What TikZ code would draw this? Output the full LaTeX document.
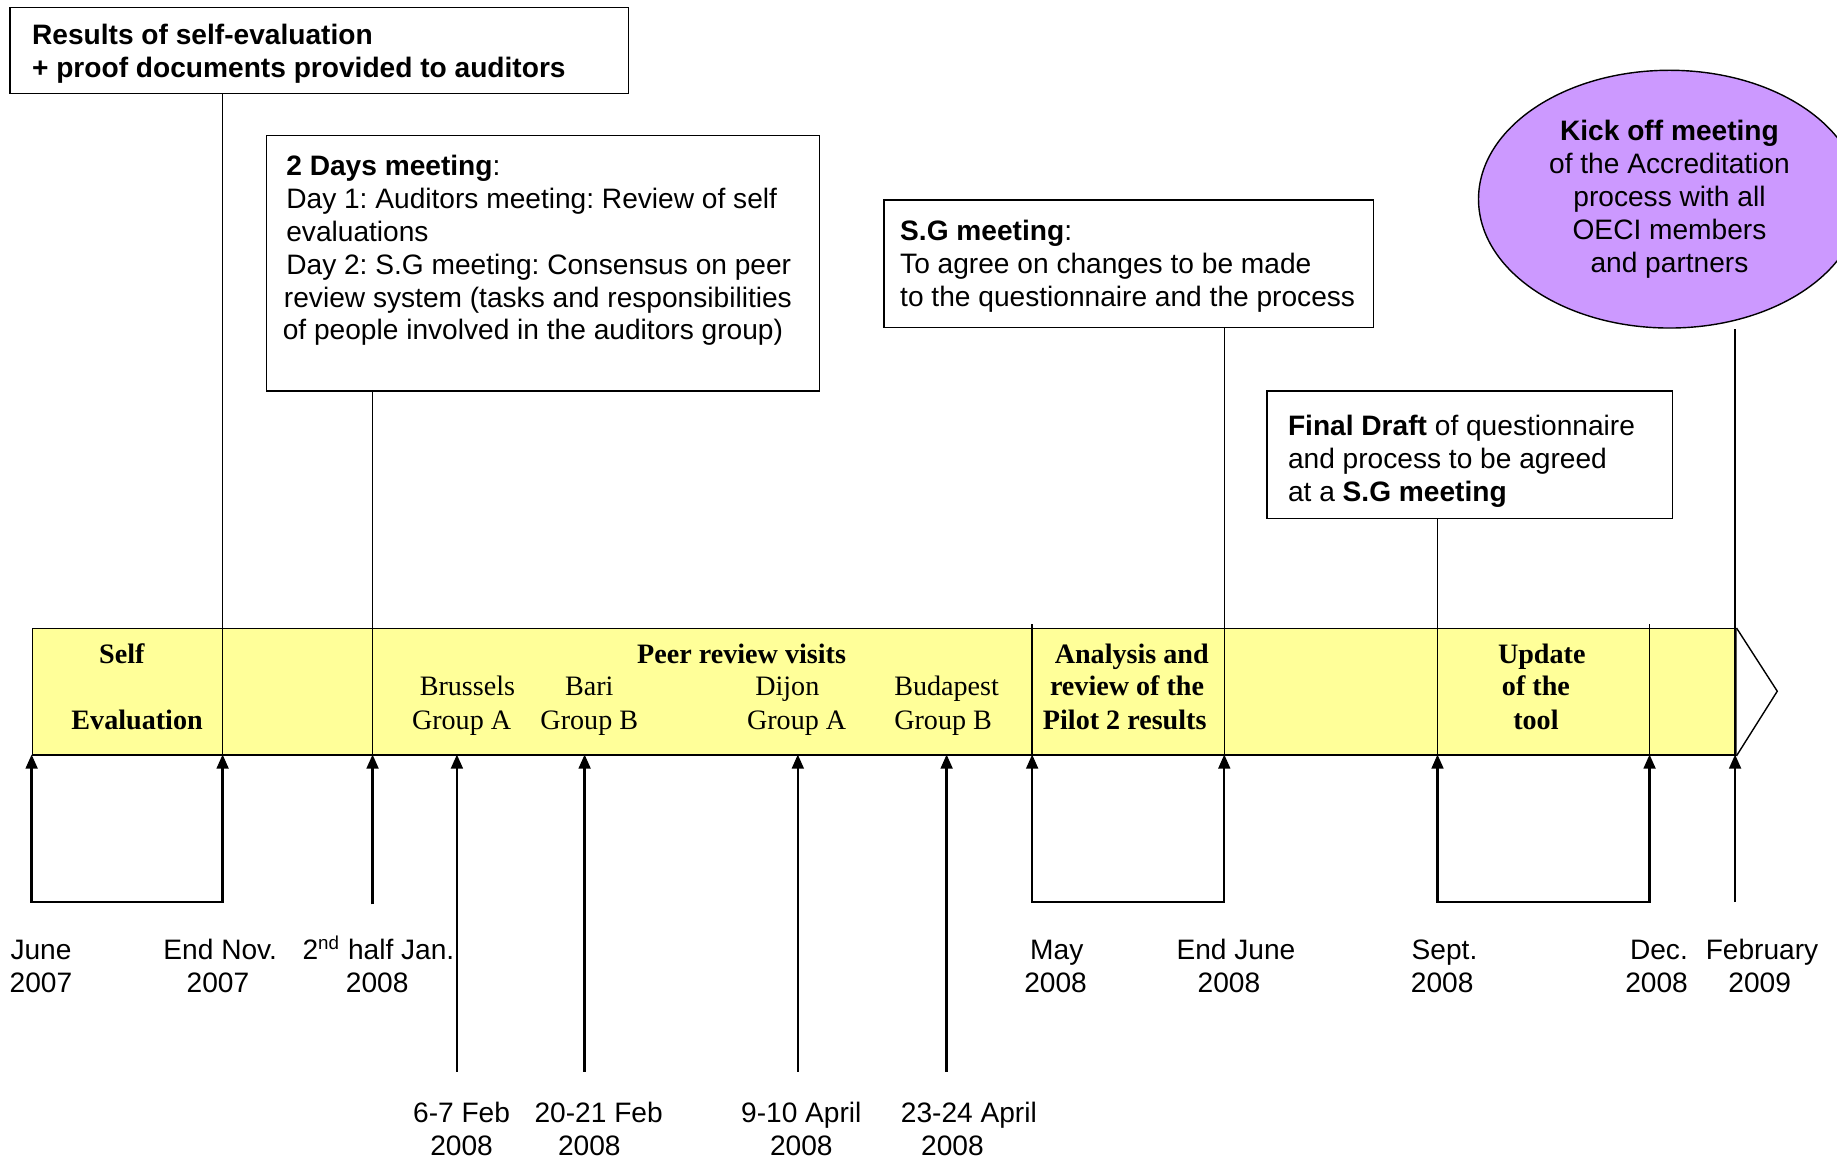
\documentclass[tikz,border=0pt]{standalone}
\usepackage{fontspec}
\setmainfont{Liberation Sans}
\newfontfamily\tmsfont{Liberation Serif}
\usetikzlibrary{shapes.geometric,arrows.meta}
\definecolor{bandyellow}{HTML}{FFFF99}
\definecolor{kickpurple}{HTML}{CC99FF}
\frenchspacing
\begin{document}
\begin{tikzpicture}[x=0.5pt,y=-0.5pt,
  boxframe/.style={draw, line width=0.6pt, rectangle, anchor=north west, inner sep=0pt},
  boxtext/.style={anchor=west, align=left, inner sep=0pt, font=\fontsize{12}{14}\selectfont},
  boxbold/.style={boxtext, font=\fontsize{12}{14}\selectfont\bfseries},
  bandtext/.style={anchor=base, inner sep=0pt, font=\fontsize{12}{14}\selectfont\tmsfont},
  bandbold/.style={anchor=base, inner sep=0pt, font=\fontsize{12}{14}\selectfont\tmsfont\bfseries},
  datelab/.style={anchor=base, inner sep=0pt, font=\fontsize{12}{14}\selectfont},
  conn/.style={line width=0.6pt},
  uparrow/.style={line width=1pt, -{Triangle[width=5pt,length=6pt]}},
  bracket/.style={line width=1pt, line cap=rect},
]
\useasboundingbox (0,0) rectangle (1568,988);

% top boxes
\node[boxframe, minimum width=264pt, minimum height=36.5pt] (box1) at (8,6) {};
\node[boxbold] (box1t) at (27,46) {Results of self-evaluation\\+ proof documents provided to auditors};

\node[boxframe, minimum width=236pt, minimum height=109pt] (box2) at (227,115) {};
\node[boxtext] (box2t) at (244,214) {\textbf{2 Days meeting}:\\Day 1: Auditors meeting: Review of self\\evaluations\\Day 2: S.G meeting: Consensus on peer\\\hspace*{-1pt}review system (tasks and responsibilities\\\hspace*{-1.5pt}of people involved in the auditors group)};

\node[boxframe, minimum width=209pt, minimum height=54.5pt] (box3) at (754,170) {};
\node[boxtext] (box3t) at (768,227) {\textbf{S.G meeting}:\\To agree on changes to be made\\to the questionnaire and the process};

\node[boxframe, minimum width=173pt, minimum height=54.5pt] (box4) at (1081,333) {};
\node[boxtext] (box4t) at (1099,394) {\textbf{Final Draft} of questionnaire\\and process to be agreed\\at a \textbf{S.G meeting}};

\node[draw, line width=0.6pt, ellipse, fill=kickpurple, minimum width=163pt, minimum height=110pt, inner sep=0pt, align=center, font=\fontsize{12}{14}\selectfont] (kick) at (1425,170) {\textbf{Kick off meeting}\\of the Accreditation\\process with all\\OECI members\\and partners};
\coordinate (kk) at (1481,281);

% band
\node[draw, line width=0.6pt, fill=bandyellow, minimum width=727pt, minimum height=54pt, anchor=north west, inner sep=0pt] (band) at (27,536) {};
\coordinate (tip) at (1517,590);
\draw[conn, fill=white] (band.north east) -- (tip) -- (band.south east);

\foreach \n/\x/\y in {1/27/770,2/190/770,3/318/772,4/390/915,5/499/915,6/681/915,7/808/915,8/881/770,9/1045/770,10/1227/770,11/1408/770,12/1481/770}{
  \coordinate (t\n) at (\x,644);
  \coordinate (b\n) at (\x,\y);
}

% lines from boxes / dividers
\draw[conn] (box1.south -| t2) -- (t2);
\draw[conn] (box2.south -| t3) -- (t3);
\draw[conn] (box3.south -| t9) -- (t9);
\draw[conn] (box4.south -| t10) -- (t10);
\draw[conn] (kk) -- (t12);
\draw[conn] ([yshift=1.5pt]band.north -| t8) -- (t8);
\draw[conn] ([yshift=1.5pt]band.north -| t11) -- (t11);

% arrows
\foreach \n in {1,...,12}{\draw[uparrow] (b\n) -- (t\n);}
\draw[bracket] (b1) -- (b2);
\draw[bracket] (b8) -- (b9);
\draw[bracket] (b10) -- (b11);

% band texts
\node[bandbold] (self1) at (104,566) {Self};
\node[bandbold] (self2) at (117,623) {Evaluation};
\node[bandbold] (peer) at (633,566) {Peer review visits};
\node[bandtext] (c1a) at (399,594) {Brussels};
\node[bandtext] (c1b) at (394,623) {Group A};
\node[bandtext] (c2a) at (503,594) {Bari};
\node[bandtext] (c2b) at (503,623) {Group B};
\node[bandtext] (c3a) at (672,594) {Dijon};
\node[bandtext] (c3b) at (680,623) {Group A};
\node[bandtext] (c4a) at (808,594) {Budapest};
\node[bandtext] (c4b) at (805,623) {Group B};
\node[bandbold] (an1) at (966,566) {Analysis and};
\node[bandbold] (an2) at (962,594) {review of the};
\node[bandbold] (an3) at (960,623) {Pilot 2 results};
\node[bandbold] (up1) at (1316,566) {Update};
\node[bandbold] (up2) at (1311,594) {of the};
\node[bandbold] (up3) at (1311,623) {tool};

% date labels
\node[datelab] (d1a) at (35,819) {June};
\node[datelab] (d1b) at (35,847) {2007};
\node[datelab] (d2a) at (188,819) {End Nov.};
\node[datelab] (d2b) at (186,847) {2007};
\node[datelab] (d3a) at (323,819) {2\textsuperscript{nd} half Jan.};
\node[datelab] (d3b) at (322,847) {2008};
\node[datelab] (d4a) at (394,958) {6-7 Feb};
\node[datelab] (d4b) at (394,986) {2008};
\node[datelab] (d5a) at (511,958) {20-21 Feb};
\node[datelab] (d5b) at (503,986) {2008};
\node[datelab] (d6a) at (684,958) {9-10 April};
\node[datelab] (d6b) at (684,986) {2008};
\node[datelab] (d7a) at (827,958) {23-24 April};
\node[datelab] (d7b) at (813,986) {2008};
\node[datelab] (d8a) at (902,819) {May};
\node[datelab] (d8b) at (901,847) {2008};
\node[datelab] (d9a) at (1055,819) {End June};
\node[datelab] (d9b) at (1049,847) {2008};
\node[datelab] (d10a) at (1233,819) {Sept.};
\node[datelab] (d10b) at (1231,847) {2008};
\node[datelab] (d11a) at (1416,819) {Dec.};
\node[datelab] (d11b) at (1414,847) {2008};
\node[datelab] (d12a) at (1504,819) {February};
\node[datelab] (d12b) at (1502,847) {2009};
\end{tikzpicture}
\end{document}
